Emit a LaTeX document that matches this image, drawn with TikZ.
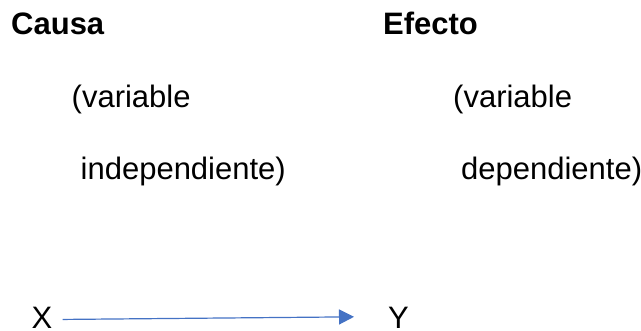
\documentclass[tikz,border=0pt]{standalone}
\usepackage{fontspec}
\setmainfont{Liberation Sans}
\usepackage{xcolor}
\usepackage{tikz}
\usetikzlibrary{arrows.meta}
\definecolor{flecha}{HTML}{4472C4}

\begin{document}
\begin{tikzpicture}[x=1pt,y=-1pt,yscale=1,xscale=1]
\useasboundingbox (0,0) rectangle (641,331);
\fontsize{31}{37}\selectfont
%Text
\draw (11,35) node (causa) [anchor=base west][inner sep=0pt] {\textbf{Causa}};
\draw (383,35) node (efecto) [anchor=base west][inner sep=0pt] {\textbf{Efecto}};
\draw (71.5,108) node (varx) [anchor=base west][inner sep=0pt] {(variable};
\draw (453,108) node (vary) [anchor=base west][inner sep=0pt] {(variable};
\draw (80.5,180) node (indep) [anchor=base west][inner sep=0pt] {independiente)};
\draw (461,180) node (dep) [anchor=base west][inner sep=0pt] {dependiente)};
\draw (31.5,328.5) node (X) [anchor=base west][inner sep=0pt] {X};
\draw (388,328.5) node (Y) [anchor=base west][inner sep=0pt] {Y};
%Arrow
\draw [flecha, line width=1.2pt, -{Triangle[length=15pt,width=15pt]}, shorten <=10pt, shorten >=34pt] ([yshift=-1.7pt]X.east) -- ([yshift=1.3pt]Y.west) ;
\end{tikzpicture}
\end{document}
